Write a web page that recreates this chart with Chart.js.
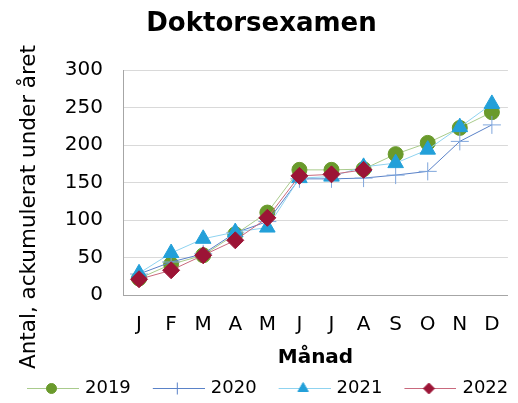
<!DOCTYPE html>
<html>
<head>
<meta charset="utf-8">
<script src="https://cdn.jsdelivr.net/npm/chart.js@4"></script>
<style>
    html, body { margin: 0; padding: 0; background: #fff; }
    #wrap { width: 518px; height: 403px; }
</style>
</head>
<body>
<div id="wrap"><canvas id="chart"></canvas></div>
<script>
const months = ["J", "F", "M", "A", "M", "J", "J", "A", "S", "O", "N", "D"];
const years = ["2019", "2020", "2021", "2022"];

const values2019 = [22, 41, 53, 81, 110, 167, 167, 168, 188, 203, 223, 244];
const values2020 = [28, 44, 55, 83, 98, 155, 155, 156, 160, 165, 205, 227];
const values2021 = [29, 56, 75, 84, 90, 156, 158, 171, 176, 194, 224, 255];
const values2022 = [21, 33, 53, 73, 103, 159, 161, 167];

const yTicks = [0, 50, 100, 150, 200, 250, 300];

const font = "'DejaVu Sans', Verdana, sans-serif";

const styles = {
    "2019": { line: "#a9cb8c", fill: "#6a9a2c", shape: "circle", r: 7.5, legendR: 5 },
    "2020": { line: "#5a82c8", fill: "#7fa6dc", shape: "cross", r: 9, legendR: 6 },
    "2021": { line: "#8fd3f0", fill: "#23a0d9", shape: "triangle", r: 9, legendR: 6 },
    "2022": { line: "#c9697d", fill: "#9c1436", shape: "rectRot", r: 8.5, legendR: 5.5 }
};

// legend box is 68 wide, picture is 74 wide so the line runs 3px past it
const legendIcon = (year) => {
    const s = styles[year];
    const c = document.createElement("canvas");
    c.width = 74;
    c.height = 16;
    const ctx = c.getContext("2d");
    ctx.strokeStyle = s.line;
    ctx.lineWidth = 1;
    ctx.beginPath();
    ctx.moveTo(22, 8.5);
    ctx.lineTo(74, 8.5);
    ctx.stroke();
    ctx.fillStyle = s.fill;
    ctx.strokeStyle = s.shape === "cross" ? s.line : s.fill;
    Chart.helpers.drawPoint(ctx, {
        pointStyle: s.shape,
        radius: s.legendR,
        rotation: 0,
        borderWidth: 1
    }, 46.5, 8.5);
    return c;
};

const makeSet = (year, data, order) => {
    const s = styles[year];
    return {
        label: year,
        data,
        order,
        borderColor: s.line,
        borderWidth: 1,
        pointStyle: s.shape,
        pointRadius: s.r,
        pointHoverRadius: s.r,
        pointBackgroundColor: s.fill,
        pointBorderColor: s.fill,
        pointBorderWidth: 1,
        tension: 0,
        fill: false
    };
};

const yTitle = {
    id: "yTitle",
    afterDraw(chart) {
        const ctx = chart.ctx;
        ctx.save();
        ctx.translate(29, 207);
        ctx.rotate(-Math.PI / 2);
        ctx.font = "21.5px " + font;
        ctx.fillStyle = "#000";
        ctx.textAlign = "center";
        ctx.textBaseline = "middle";
        ctx.fillText("Antal, ackumulerat under året", 0, 0);
        ctx.restore();
    }
};

new Chart(document.getElementById("chart"), {
    type: "line",
    data: {
        labels: months,
        datasets: [
            makeSet("2019", values2019, 3),
            makeSet("2020", values2020, 2),
            makeSet("2021", values2021, 1),
            makeSet("2022", values2022, 0)
        ]
    },
    options: {
        responsive: true,
        maintainAspectRatio: false,
        animation: false,
        layout: { padding: { left: 5, right: 0, top: 0, bottom: -4 } },
        scales: {
            x: {
                offset: true,
                afterFit: (scale) => { scale.height = 81; },
                grid: { display: false, drawTicks: false },
                border: { color: "#a6a6a6", width: 1 },
                ticks: { color: "#000", padding: 18, font: { family: font, size: 20 } },
                title: {
                    display: true,
                    text: "Månad",
                    color: "#000",
                    padding: { top: 4, bottom: 6 },
                    font: { family: font, size: 20, weight: "bold" }
                }
            },
            y: {
                min: 0,
                max: 300,
                afterFit: (scale) => { scale.width = 118; },
                afterBuildTicks: (scale) => { scale.ticks = yTicks.map((v) => ({ value: v })); },
                grid: { color: "#d9d9d9", drawTicks: false },
                border: { color: "#a6a6a6", width: 1 },
                ticks: { color: "#000", padding: 20, font: { family: font, size: 20 } }
            }
        },
        plugins: {
            title: {
                display: true,
                text: "Doktorsexamen",
                color: "#000",
                padding: { top: 9, bottom: 30 },
                font: { family: font, size: 26, weight: "bold" }
            },
            legend: {
                position: "bottom",
                align: "start",
                labels: {
                    color: "#000",
                    font: { family: font, size: 18 },
                    usePointStyle: true,
                    pointStyleWidth: 68,
                    padding: 3,
                    generateLabels: () => years.map((year, i) => ({
                        text: year,
                        pointStyle: legendIcon(year),
                        datasetIndex: i,
                        fontColor: "#000",
                        lineWidth: 0,
                        hidden: false
                    }))
                }
            },
            tooltip: { enabled: false }
        }
    },
    plugins: [yTitle]
});
</script>
</body>
</html>
